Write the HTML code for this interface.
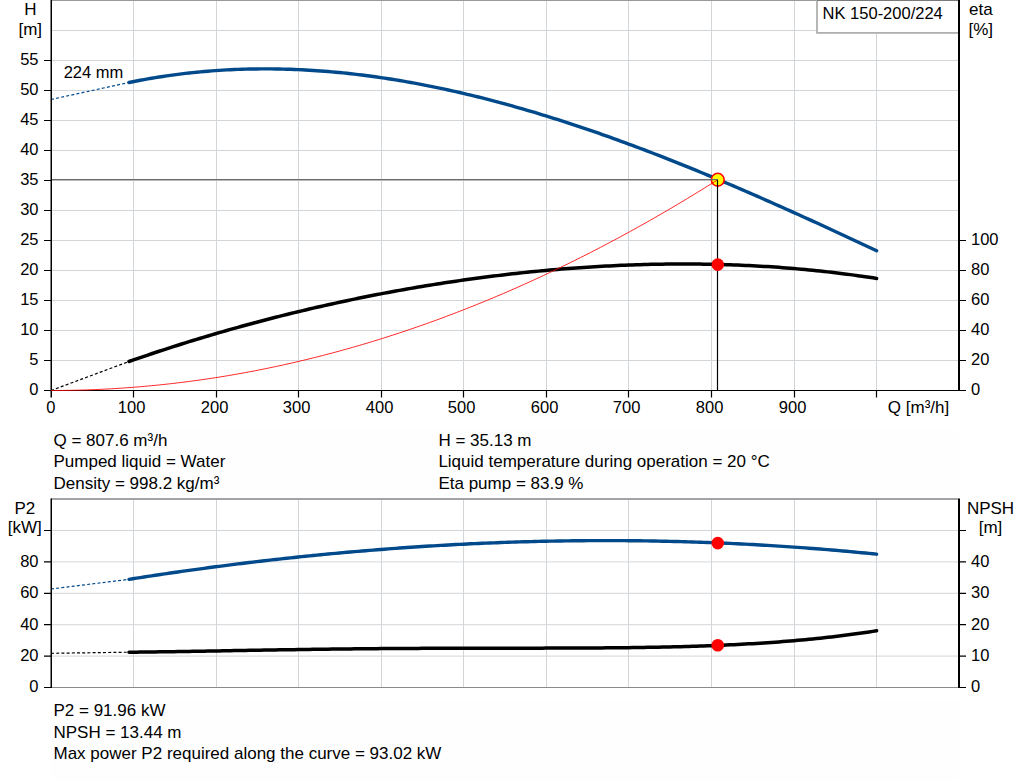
<!DOCTYPE html>
<html><head><meta charset="utf-8"><style>html,body{margin:0;padding:0;background:#fff;width:1024px;height:781px;overflow:hidden}svg{display:block}text{font-family:"Liberation Sans",sans-serif}</style></head>
<body>
<svg width="1024" height="781" viewBox="0 0 1024 781" font-family="Liberation Sans, sans-serif" font-size="17" fill="#000">
<rect width="1024" height="781" fill="#fff"/>
<path d="M133.5,0.5 V390 M216.5,0.5 V390 M298.5,0.5 V390 M381.5,0.5 V390 M463.5,0.5 V390 M546.5,0.5 V390 M628.5,0.5 V390 M711.5,0.5 V390 M794.5,0.5 V390 M876.5,0.5 V390 M51,360.5 H958 M51,330.5 H958 M51,300.5 H958 M51,270.5 H958 M51,240.5 H958 M51,210.5 H958 M51,180.5 H958 M51,150.5 H958 M51,120.5 H958 M51,90.5 H958 M51,60.5 H958 M51,30.5 H958" stroke="#d3d6d9" stroke-width="1" fill="none"/>
<path d="M51,0.5 H958" stroke="#9a9a9a" stroke-width="1"/>
<rect x="817" y="-1" width="142" height="33.9" fill="#fff" stroke="#b0b0b0" stroke-width="1.8"/>
<path d="M817,0.5 H958" stroke="#7a7a7a" stroke-width="1"/>
<path d="M51.00,390.50 L129.02,361.49" stroke="#000" stroke-width="1.2" stroke-dasharray="3 2.2" fill="none"/>
<path d="M129.02,361.49 L132.78,360.18 L136.53,358.88 L140.29,357.59 L144.05,356.31 L147.80,355.04 L151.56,353.78 L155.32,352.52 L159.07,351.28 L162.83,350.05 L166.59,348.82 L170.34,347.61 L174.10,346.40 L177.86,345.21 L181.61,344.02 L185.37,342.84 L189.13,341.68 L192.88,340.52 L196.64,339.37 L200.40,338.23 L204.15,337.10 L207.91,335.98 L211.67,334.86 L215.42,333.76 L219.18,332.67 L222.94,331.58 L226.69,330.50 L230.45,329.44 L234.21,328.38 L237.96,327.33 L241.72,326.29 L245.48,325.25 L249.23,324.23 L252.99,323.22 L256.75,322.21 L260.50,321.21 L264.26,320.23 L268.02,319.25 L271.77,318.28 L275.53,317.32 L279.29,316.36 L283.04,315.42 L286.80,314.48 L290.56,313.56 L294.31,312.64 L298.07,311.73 L301.83,310.83 L305.58,309.93 L309.34,309.05 L313.10,308.17 L316.85,307.31 L320.61,306.45 L324.37,305.60 L328.12,304.76 L331.88,303.92 L335.64,303.10 L339.39,302.28 L343.15,301.47 L346.91,300.67 L350.66,299.88 L354.42,299.10 L358.18,298.33 L361.93,297.56 L365.69,296.81 L369.45,296.06 L373.20,295.32 L376.96,294.58 L380.72,293.86 L384.47,293.15 L388.23,292.44 L391.99,291.74 L395.74,291.05 L399.50,290.37 L403.26,289.70 L407.01,289.03 L410.77,288.38 L414.53,287.73 L418.28,287.09 L422.04,286.46 L425.80,285.84 L429.55,285.22 L433.31,284.62 L437.07,284.02 L440.82,283.43 L444.58,282.85 L448.34,282.28 L452.09,281.72 L455.85,281.16 L459.61,280.61 L463.36,280.08 L467.12,279.55 L470.88,279.03 L474.63,278.51 L478.39,278.01 L482.15,277.51 L485.90,277.03 L489.66,276.55 L493.42,276.08 L497.17,275.62 L500.93,275.17 L504.69,274.72 L508.44,274.29 L512.20,273.86 L515.96,273.44 L519.71,273.03 L523.47,272.63 L527.23,272.24 L530.98,271.86 L534.74,271.48 L538.50,271.12 L542.25,270.76 L546.01,270.41 L549.77,270.07 L553.52,269.74 L557.28,269.42 L561.04,269.11 L564.79,268.81 L568.55,268.51 L572.31,268.23 L576.07,267.95 L579.82,267.68 L583.58,267.43 L587.34,267.18 L591.09,266.94 L594.85,266.71 L598.61,266.48 L602.36,266.27 L606.12,266.07 L609.88,265.88 L613.63,265.69 L617.39,265.52 L621.15,265.35 L624.90,265.19 L628.66,265.05 L632.42,264.91 L636.17,264.78 L639.93,264.66 L643.69,264.55 L647.44,264.46 L651.20,264.37 L654.96,264.29 L658.71,264.22 L662.47,264.16 L666.23,264.10 L669.98,264.06 L673.74,264.03 L677.50,264.01 L681.25,264.00 L685.01,264.00 L688.77,264.01 L692.52,264.03 L696.28,264.06 L700.04,264.10 L703.79,264.15 L707.55,264.21 L711.31,264.28 L715.06,264.36 L718.82,264.45 L722.58,264.55 L726.33,264.67 L730.09,264.79 L733.85,264.92 L737.60,265.07 L741.36,265.22 L745.12,265.39 L748.87,265.57 L752.63,265.75 L756.39,265.95 L760.14,266.16 L763.90,266.38 L767.66,266.61 L771.41,266.86 L775.17,267.11 L778.93,267.37 L782.68,267.65 L786.44,267.94 L790.20,268.24 L793.95,268.55 L797.71,268.87 L801.47,269.21 L805.22,269.55 L808.98,269.91 L812.74,270.28 L816.49,270.66 L820.25,271.05 L824.01,271.46 L827.76,271.87 L831.52,272.30 L835.28,272.74 L839.03,273.20 L842.79,273.66 L846.55,274.14 L850.30,274.63 L854.06,275.13 L857.82,275.65 L861.57,276.18 L865.33,276.72 L869.09,277.27 L872.84,277.84 L876.60,278.42" stroke="#000" stroke-width="3.5" fill="none" stroke-linecap="round" stroke-linejoin="round"/>
<path d="M51.00,99.5 L129.02,82.48" stroke="#004a8c" stroke-width="1.2" stroke-dasharray="3 2.2" fill="none"/>
<path d="M129.02,82.48 L132.78,81.72 L136.53,80.98 L140.29,80.26 L144.05,79.57 L147.80,78.90 L151.56,78.25 L155.32,77.63 L159.07,77.03 L162.83,76.45 L166.59,75.89 L170.34,75.35 L174.10,74.84 L177.86,74.35 L181.61,73.88 L185.37,73.43 L189.13,73.01 L192.88,72.60 L196.64,72.22 L200.40,71.86 L204.15,71.52 L207.91,71.20 L211.67,70.90 L215.42,70.63 L219.18,70.37 L222.94,70.13 L226.69,69.92 L230.45,69.72 L234.21,69.55 L237.96,69.40 L241.72,69.26 L245.48,69.15 L249.23,69.06 L252.99,68.99 L256.75,68.93 L260.50,68.90 L264.26,68.88 L268.02,68.89 L271.77,68.91 L275.53,68.96 L279.29,69.02 L283.04,69.10 L286.80,69.20 L290.56,69.32 L294.31,69.46 L298.07,69.62 L301.83,69.80 L305.58,69.99 L309.34,70.20 L313.10,70.43 L316.85,70.68 L320.61,70.95 L324.37,71.24 L328.12,71.54 L331.88,71.86 L335.64,72.20 L339.39,72.55 L343.15,72.92 L346.91,73.31 L350.66,73.72 L354.42,74.15 L358.18,74.59 L361.93,75.04 L365.69,75.52 L369.45,76.01 L373.20,76.52 L376.96,77.04 L380.72,77.58 L384.47,78.14 L388.23,78.71 L391.99,79.30 L395.74,79.91 L399.50,80.53 L403.26,81.16 L407.01,81.81 L410.77,82.48 L414.53,83.16 L418.28,83.86 L422.04,84.58 L425.80,85.30 L429.55,86.05 L433.31,86.80 L437.07,87.58 L440.82,88.36 L444.58,89.17 L448.34,89.98 L452.09,90.81 L455.85,91.66 L459.61,92.52 L463.36,93.39 L467.12,94.28 L470.88,95.18 L474.63,96.09 L478.39,97.02 L482.15,97.96 L485.90,98.91 L489.66,99.88 L493.42,100.86 L497.17,101.85 L500.93,102.86 L504.69,103.88 L508.44,104.91 L512.20,105.96 L515.96,107.02 L519.71,108.09 L523.47,109.17 L527.23,110.26 L530.98,111.37 L534.74,112.49 L538.50,113.62 L542.25,114.76 L546.01,115.91 L549.77,117.08 L553.52,118.26 L557.28,119.44 L561.04,120.64 L564.79,121.85 L568.55,123.08 L572.31,124.31 L576.07,125.55 L579.82,126.81 L583.58,128.07 L587.34,129.35 L591.09,130.63 L594.85,131.93 L598.61,133.23 L602.36,134.55 L606.12,135.88 L609.88,137.21 L613.63,138.56 L617.39,139.91 L621.15,141.28 L624.90,142.65 L628.66,144.04 L632.42,145.43 L636.17,146.83 L639.93,148.24 L643.69,149.66 L647.44,151.09 L651.20,152.53 L654.96,153.98 L658.71,155.43 L662.47,156.90 L666.23,158.37 L669.98,159.85 L673.74,161.33 L677.50,162.83 L681.25,164.33 L685.01,165.85 L688.77,167.37 L692.52,168.89 L696.28,170.43 L700.04,171.97 L703.79,173.52 L707.55,175.07 L711.31,176.63 L715.06,178.20 L718.82,179.78 L722.58,181.36 L726.33,182.95 L730.09,184.55 L733.85,186.15 L737.60,187.76 L741.36,189.38 L745.12,191.00 L748.87,192.63 L752.63,194.26 L756.39,195.90 L760.14,197.54 L763.90,199.19 L767.66,200.85 L771.41,202.51 L775.17,204.18 L778.93,205.85 L782.68,207.53 L786.44,209.21 L790.20,210.89 L793.95,212.58 L797.71,214.28 L801.47,215.98 L805.22,217.68 L808.98,219.39 L812.74,221.11 L816.49,222.82 L820.25,224.54 L824.01,226.27 L827.76,228.00 L831.52,229.73 L835.28,231.46 L839.03,233.20 L842.79,234.95 L846.55,236.69 L850.30,238.44 L854.06,240.19 L857.82,241.95 L861.57,243.71 L865.33,245.47 L869.09,247.23 L872.84,248.99 L876.60,250.76" stroke="#004a8c" stroke-width="3.4" fill="none" stroke-linecap="round" stroke-linejoin="round"/>
<path d="M51.25,0 V397.5" stroke="#000" stroke-width="1.5"/>
<path d="M959,0 V391" stroke="#000" stroke-width="2"/>
<path d="M44,390.5 H966" stroke="#000" stroke-width="1.2"/>
<path d="M44,390.5 H51 M44,360.5 H51 M44,330.5 H51 M44,300.5 H51 M44,270.5 H51 M44,240.5 H51 M44,210.5 H51 M44,180.5 H51 M44,150.5 H51 M44,120.5 H51 M44,90.5 H51 M44,60.5 H51 M960,390.5 H966 M960,360.5 H966 M960,330.5 H966 M960,300.5 H966 M960,270.5 H966 M960,240.5 H966 M133.5,390 V397.5 M216.5,390 V397.5 M298.5,390 V397.5 M381.5,390 V397.5 M463.5,390 V397.5 M546.5,390 V397.5 M628.5,390 V397.5 M711.5,390 V397.5 M794.5,390 V397.5 M876.5,390 V397.5" stroke="#000" stroke-width="1.2"/>
<circle cx="717.75" cy="179.72" r="6.4" fill="#ffff00" stroke="#ff0000" stroke-width="1.6"/>
<path d="M51.00,390.50 L54.35,390.49 L57.70,390.48 L61.05,390.45 L64.40,390.41 L67.75,390.37 L71.10,390.31 L74.45,390.24 L77.80,390.16 L81.15,390.07 L84.51,389.97 L87.86,389.86 L91.21,389.73 L94.56,389.60 L97.91,389.46 L101.26,389.30 L104.61,389.14 L107.96,388.96 L111.31,388.78 L114.66,388.58 L118.01,388.37 L121.36,388.15 L124.71,387.92 L128.06,387.68 L131.41,387.43 L134.76,387.17 L138.11,386.90 L141.46,386.62 L144.81,386.33 L148.17,386.02 L151.52,385.71 L154.87,385.38 L158.22,385.05 L161.57,384.70 L164.92,384.35 L168.27,383.98 L171.62,383.60 L174.97,383.21 L178.32,382.81 L181.67,382.40 L185.02,381.98 L188.37,381.55 L191.72,381.11 L195.07,380.66 L198.42,380.20 L201.77,379.72 L205.12,379.24 L208.47,378.74 L211.83,378.24 L215.18,377.72 L218.53,377.19 L221.88,376.66 L225.23,376.11 L228.58,375.55 L231.93,374.98 L235.28,374.40 L238.63,373.81 L241.98,373.21 L245.33,372.59 L248.68,371.97 L252.03,371.34 L255.38,370.69 L258.73,370.04 L262.08,369.37 L265.43,368.70 L268.78,368.01 L272.13,367.31 L275.49,366.61 L278.84,365.89 L282.19,365.16 L285.54,364.42 L288.89,363.67 L292.24,362.91 L295.59,362.14 L298.94,361.35 L302.29,360.56 L305.64,359.76 L308.99,358.94 L312.34,358.12 L315.69,357.28 L319.04,356.44 L322.39,355.58 L325.74,354.71 L329.09,353.83 L332.44,352.94 L335.79,352.04 L339.15,351.13 L342.50,350.21 L345.85,349.28 L349.20,348.34 L352.55,347.39 L355.90,346.42 L359.25,345.45 L362.60,344.46 L365.95,343.47 L369.30,342.46 L372.65,341.45 L376.00,340.42 L379.35,339.38 L382.70,338.33 L386.05,337.27 L389.40,336.20 L392.75,335.12 L396.10,334.03 L399.45,332.93 L402.81,331.82 L406.16,330.70 L409.51,329.56 L412.86,328.42 L416.21,327.26 L419.56,326.10 L422.91,324.92 L426.26,323.73 L429.61,322.54 L432.96,321.33 L436.31,320.11 L439.66,318.88 L443.01,317.64 L446.36,316.39 L449.71,315.13 L453.06,313.85 L456.41,312.57 L459.76,311.28 L463.11,309.97 L466.47,308.66 L469.82,307.33 L473.17,306.00 L476.52,304.65 L479.87,303.29 L483.22,301.93 L486.57,300.55 L489.92,299.16 L493.27,297.76 L496.62,296.35 L499.97,294.93 L503.32,293.50 L506.67,292.05 L510.02,290.60 L513.37,289.14 L516.72,287.66 L520.07,286.18 L523.42,284.68 L526.77,283.18 L530.13,281.66 L533.48,280.13 L536.83,278.59 L540.18,277.04 L543.53,275.48 L546.88,273.91 L550.23,272.33 L553.58,270.74 L556.93,269.14 L560.28,267.53 L563.63,265.90 L566.98,264.27 L570.33,262.62 L573.68,260.97 L577.03,259.30 L580.38,257.63 L583.73,255.94 L587.08,254.24 L590.43,252.53 L593.79,250.81 L597.14,249.08 L600.49,247.34 L603.84,245.59 L607.19,243.83 L610.54,242.06 L613.89,240.28 L617.24,238.48 L620.59,236.68 L623.94,234.86 L627.29,233.04 L630.64,231.20 L633.99,229.35 L637.34,227.50 L640.69,225.63 L644.04,223.75 L647.39,221.86 L650.74,219.96 L654.09,218.05 L657.45,216.13 L660.80,214.19 L664.15,212.25 L667.50,210.30 L670.85,208.33 L674.20,206.36 L677.55,204.37 L680.90,202.38 L684.25,200.37 L687.60,198.35 L690.95,196.33 L694.30,194.29 L697.65,192.24 L701.00,190.18 L704.35,188.11 L707.70,186.03 L711.05,183.94 L714.40,181.83 L717.75,179.72" stroke="#ff0000" stroke-width="0.85" fill="none"/>
<path d="M52,179.72 H717.75" stroke="#6a6a6a" stroke-width="1.2"/>
<path d="M717.5,179.72 V390.5" stroke="#000" stroke-width="1.2"/>
<circle cx="717.75" cy="264.65" r="6.3" fill="#ff0000"/>
<text x="822.6" y="19" font-size="16.5">NK 150-200/224</text>
<text x="38.5" y="395.0" text-anchor="end" font-size="16.5">0</text>
<text x="38.5" y="365.0" text-anchor="end" font-size="16.5">5</text>
<text x="38.5" y="335.0" text-anchor="end" font-size="16.5">10</text>
<text x="38.5" y="305.0" text-anchor="end" font-size="16.5">15</text>
<text x="38.5" y="275.0" text-anchor="end" font-size="16.5">20</text>
<text x="38.5" y="245.0" text-anchor="end" font-size="16.5">25</text>
<text x="38.5" y="215.0" text-anchor="end" font-size="16.5">30</text>
<text x="38.5" y="185.0" text-anchor="end" font-size="16.5">35</text>
<text x="38.5" y="155.0" text-anchor="end" font-size="16.5">40</text>
<text x="38.5" y="125.0" text-anchor="end" font-size="16.5">45</text>
<text x="38.5" y="95.0" text-anchor="end" font-size="16.5">50</text>
<text x="38.5" y="65.0" text-anchor="end" font-size="16.5">55</text>
<text x="971" y="395.0" font-size="16.5">0</text>
<text x="971" y="365.0" font-size="16.5">20</text>
<text x="971" y="335.0" font-size="16.5">40</text>
<text x="971" y="305.0" font-size="16.5">60</text>
<text x="971" y="275.0" font-size="16.5">80</text>
<text x="971" y="245.0" font-size="16.5">100</text>
<text x="50.90" y="413" text-anchor="middle" font-size="16.5">0</text>
<text x="131.60" y="413" text-anchor="middle" font-size="16.5">100</text>
<text x="214.60" y="413" text-anchor="middle" font-size="16.5">200</text>
<text x="296.60" y="413" text-anchor="middle" font-size="16.5">300</text>
<text x="379.60" y="413" text-anchor="middle" font-size="16.5">400</text>
<text x="461.60" y="413" text-anchor="middle" font-size="16.5">500</text>
<text x="544.60" y="413" text-anchor="middle" font-size="16.5">600</text>
<text x="626.60" y="413" text-anchor="middle" font-size="16.5">700</text>
<text x="709.60" y="413" text-anchor="middle" font-size="16.5">800</text>
<text x="792.60" y="413" text-anchor="middle" font-size="16.5">900</text>
<text x="887.8" y="413">Q [m³/h]</text>
<text x="30.3" y="15" text-anchor="middle">H</text>
<text x="30.3" y="35" text-anchor="middle">[m]</text>
<text x="980.8" y="15" text-anchor="middle">eta</text>
<text x="980.8" y="35" text-anchor="middle">[%]</text>
<text x="63.7" y="78" font-size="16.5">224 mm</text>
<rect x="51" y="430" width="908" height="68" fill="#fefefe"/>
<text x="53.5" y="446.0">Q = 807.6 m³/h</text>
<text x="53.5" y="467.3">Pumped liquid = Water</text>
<text x="53.5" y="488.6">Density = 998.2 kg/m³</text>
<text x="438.4" y="446.0">H = 35.13 m</text>
<text x="438.4" y="467.3">Liquid temperature during operation = 20 °C</text>
<text x="438.4" y="488.6">Eta pump = 83.9 %</text>
<path d="M133.5,499 V687 M216.5,499 V687 M298.5,499 V687 M381.5,499 V687 M463.5,499 V687 M546.5,499 V687 M628.5,499 V687 M711.5,499 V687 M794.5,499 V687 M876.5,499 V687 M51,656.10 H958 M51,624.70 H958 M51,593.30 H958 M51,561.90 H958 M51,530.50 H958" stroke="#d3d6d9" stroke-width="1" fill="none"/>
<path d="M51,499 H958" stroke="#83858a" stroke-width="1.5"/>
<path d="M51,687.5 H958" stroke="#8a8a8a" stroke-width="1.2"/>
<path d="M51.00,653.3 L129.02,652.20" stroke="#000" stroke-width="1.2" stroke-dasharray="3 2.2" fill="none"/>
<path d="M129.02,652.20 L132.78,652.17 L136.53,652.13 L140.29,652.08 L144.05,652.04 L147.80,651.99 L151.56,651.95 L155.32,651.90 L159.07,651.85 L162.83,651.79 L166.59,651.74 L170.34,651.68 L174.10,651.63 L177.86,651.57 L181.61,651.51 L185.37,651.45 L189.13,651.39 L192.88,651.33 L196.64,651.27 L200.40,651.20 L204.15,651.14 L207.91,651.08 L211.67,651.01 L215.42,650.95 L219.18,650.88 L222.94,650.82 L226.69,650.75 L230.45,650.69 L234.21,650.62 L237.96,650.56 L241.72,650.49 L245.48,650.43 L249.23,650.36 L252.99,650.30 L256.75,650.24 L260.50,650.17 L264.26,650.11 L268.02,650.05 L271.77,649.99 L275.53,649.93 L279.29,649.87 L283.04,649.81 L286.80,649.75 L290.56,649.69 L294.31,649.63 L298.07,649.58 L301.83,649.52 L305.58,649.47 L309.34,649.42 L313.10,649.36 L316.85,649.31 L320.61,649.26 L324.37,649.21 L328.12,649.17 L331.88,649.12 L335.64,649.07 L339.39,649.03 L343.15,648.99 L346.91,648.95 L350.66,648.90 L354.42,648.86 L358.18,648.83 L361.93,648.79 L365.69,648.75 L369.45,648.72 L373.20,648.69 L376.96,648.65 L380.72,648.62 L384.47,648.59 L388.23,648.56 L391.99,648.54 L395.74,648.51 L399.50,648.49 L403.26,648.46 L407.01,648.44 L410.77,648.42 L414.53,648.40 L418.28,648.38 L422.04,648.36 L425.80,648.34 L429.55,648.33 L433.31,648.31 L437.07,648.30 L440.82,648.29 L444.58,648.27 L448.34,648.26 L452.09,648.25 L455.85,648.24 L459.61,648.23 L463.36,648.23 L467.12,648.22 L470.88,648.21 L474.63,648.21 L478.39,648.20 L482.15,648.20 L485.90,648.19 L489.66,648.19 L493.42,648.18 L497.17,648.18 L500.93,648.17 L504.69,648.17 L508.44,648.17 L512.20,648.16 L515.96,648.16 L519.71,648.16 L523.47,648.15 L527.23,648.15 L530.98,648.15 L534.74,648.14 L538.50,648.14 L542.25,648.13 L546.01,648.12 L549.77,648.12 L553.52,648.11 L557.28,648.10 L561.04,648.09 L564.79,648.08 L568.55,648.07 L572.31,648.05 L576.07,648.04 L579.82,648.02 L583.58,648.00 L587.34,647.98 L591.09,647.96 L594.85,647.94 L598.61,647.92 L602.36,647.89 L606.12,647.86 L609.88,647.83 L613.63,647.79 L617.39,647.76 L621.15,647.72 L624.90,647.68 L628.66,647.63 L632.42,647.58 L636.17,647.53 L639.93,647.48 L643.69,647.42 L647.44,647.36 L651.20,647.30 L654.96,647.23 L658.71,647.15 L662.47,647.08 L666.23,647.00 L669.98,646.91 L673.74,646.82 L677.50,646.73 L681.25,646.63 L685.01,646.53 L688.77,646.42 L692.52,646.31 L696.28,646.19 L700.04,646.06 L703.79,645.93 L707.55,645.80 L711.31,645.65 L715.06,645.51 L718.82,645.35 L722.58,645.19 L726.33,645.02 L730.09,644.85 L733.85,644.67 L737.60,644.48 L741.36,644.28 L745.12,644.08 L748.87,643.87 L752.63,643.65 L756.39,643.43 L760.14,643.19 L763.90,642.95 L767.66,642.70 L771.41,642.44 L775.17,642.17 L778.93,641.89 L782.68,641.60 L786.44,641.30 L790.20,641.00 L793.95,640.68 L797.71,640.35 L801.47,640.02 L805.22,639.67 L808.98,639.31 L812.74,638.94 L816.49,638.56 L820.25,638.17 L824.01,637.77 L827.76,637.35 L831.52,636.92 L835.28,636.48 L839.03,636.03 L842.79,635.57 L846.55,635.09 L850.30,634.60 L854.06,634.10 L857.82,633.58 L861.57,633.05 L865.33,632.50 L869.09,631.95 L872.84,631.37 L876.60,630.78" stroke="#000" stroke-width="3.5" fill="none" stroke-linecap="round" stroke-linejoin="round"/>
<path d="M51.00,589.0 L129.02,579.32" stroke="#004a8c" stroke-width="1.2" stroke-dasharray="3 2.2" fill="none"/>
<path d="M129.02,579.32 L132.78,578.73 L136.53,578.14 L140.29,577.56 L144.05,576.98 L147.80,576.40 L151.56,575.83 L155.32,575.27 L159.07,574.71 L162.83,574.15 L166.59,573.60 L170.34,573.05 L174.10,572.51 L177.86,571.97 L181.61,571.43 L185.37,570.90 L189.13,570.37 L192.88,569.85 L196.64,569.33 L200.40,568.82 L204.15,568.31 L207.91,567.81 L211.67,567.31 L215.42,566.81 L219.18,566.32 L222.94,565.83 L226.69,565.35 L230.45,564.87 L234.21,564.40 L237.96,563.93 L241.72,563.47 L245.48,563.01 L249.23,562.55 L252.99,562.10 L256.75,561.65 L260.50,561.21 L264.26,560.77 L268.02,560.34 L271.77,559.91 L275.53,559.49 L279.29,559.07 L283.04,558.66 L286.80,558.24 L290.56,557.84 L294.31,557.44 L298.07,557.04 L301.83,556.65 L305.58,556.26 L309.34,555.88 L313.10,555.50 L316.85,555.13 L320.61,554.76 L324.37,554.39 L328.12,554.03 L331.88,553.68 L335.64,553.33 L339.39,552.98 L343.15,552.64 L346.91,552.30 L350.66,551.97 L354.42,551.64 L358.18,551.32 L361.93,551.00 L365.69,550.69 L369.45,550.38 L373.20,550.07 L376.96,549.77 L380.72,549.48 L384.47,549.19 L388.23,548.90 L391.99,548.62 L395.74,548.35 L399.50,548.07 L403.26,547.81 L407.01,547.55 L410.77,547.29 L414.53,547.04 L418.28,546.79 L422.04,546.55 L425.80,546.31 L429.55,546.07 L433.31,545.85 L437.07,545.62 L440.82,545.40 L444.58,545.19 L448.34,544.98 L452.09,544.77 L455.85,544.57 L459.61,544.38 L463.36,544.19 L467.12,544.00 L470.88,543.82 L474.63,543.65 L478.39,543.48 L482.15,543.31 L485.90,543.15 L489.66,542.99 L493.42,542.84 L497.17,542.70 L500.93,542.56 L504.69,542.42 L508.44,542.29 L512.20,542.16 L515.96,542.04 L519.71,541.92 L523.47,541.81 L527.23,541.70 L530.98,541.60 L534.74,541.50 L538.50,541.41 L542.25,541.32 L546.01,541.24 L549.77,541.16 L553.52,541.09 L557.28,541.03 L561.04,540.96 L564.79,540.91 L568.55,540.85 L572.31,540.81 L576.07,540.76 L579.82,540.73 L583.58,540.69 L587.34,540.67 L591.09,540.64 L594.85,540.63 L598.61,540.61 L602.36,540.61 L606.12,540.61 L609.88,540.61 L613.63,540.62 L617.39,540.63 L621.15,540.65 L624.90,540.67 L628.66,540.70 L632.42,540.73 L636.17,540.77 L639.93,540.82 L643.69,540.87 L647.44,540.92 L651.20,540.98 L654.96,541.04 L658.71,541.11 L662.47,541.19 L666.23,541.27 L669.98,541.35 L673.74,541.44 L677.50,541.54 L681.25,541.64 L685.01,541.74 L688.77,541.86 L692.52,541.97 L696.28,542.09 L700.04,542.22 L703.79,542.35 L707.55,542.49 L711.31,542.63 L715.06,542.78 L718.82,542.93 L722.58,543.09 L726.33,543.25 L730.09,543.42 L733.85,543.59 L737.60,543.77 L741.36,543.96 L745.12,544.15 L748.87,544.34 L752.63,544.54 L756.39,544.75 L760.14,544.96 L763.90,545.18 L767.66,545.40 L771.41,545.63 L775.17,545.86 L778.93,546.09 L782.68,546.34 L786.44,546.59 L790.20,546.84 L793.95,547.10 L797.71,547.36 L801.47,547.63 L805.22,547.91 L808.98,548.19 L812.74,548.48 L816.49,548.77 L820.25,549.06 L824.01,549.37 L827.76,549.67 L831.52,549.99 L835.28,550.31 L839.03,550.63 L842.79,550.96 L846.55,551.29 L850.30,551.63 L854.06,551.98 L857.82,552.33 L861.57,552.69 L865.33,553.05 L869.09,553.42 L872.84,553.79 L876.60,554.17" stroke="#004a8c" stroke-width="3.4" fill="none" stroke-linecap="round" stroke-linejoin="round"/>
<circle cx="717.75" cy="543.12" r="6.3" fill="#ff0000"/>
<circle cx="717.75" cy="645.30" r="6.3" fill="#ff0000"/>
<path d="M51.25,498.5 V688" stroke="#000" stroke-width="1.5"/>
<path d="M959,498.5 V688" stroke="#000" stroke-width="2"/>
<path d="M44,687.50 H51 M960,687.50 H966 M44,656.10 H51 M960,656.10 H966 M44,624.70 H51 M960,624.70 H966 M44,593.30 H51 M960,593.30 H966 M44,561.90 H51 M960,561.90 H966 M44,530.50 H51 M960,530.50 H966" stroke="#000" stroke-width="1.2"/>
<text x="38.5" y="692" text-anchor="end" font-size="16.5">0</text>
<text x="971" y="692" font-size="16.5">0</text>
<text x="38.5" y="661" text-anchor="end" font-size="16.5">20</text>
<text x="971" y="661" font-size="16.5">10</text>
<text x="38.5" y="630" text-anchor="end" font-size="16.5">40</text>
<text x="971" y="630" font-size="16.5">20</text>
<text x="38.5" y="598" text-anchor="end" font-size="16.5">60</text>
<text x="971" y="598" font-size="16.5">30</text>
<text x="38.5" y="567" text-anchor="end" font-size="16.5">80</text>
<text x="971" y="567" font-size="16.5">40</text>
<text x="24.8" y="514" text-anchor="middle">P2</text>
<text x="24.8" y="533" text-anchor="middle">[kW]</text>
<text x="990.5" y="514" text-anchor="middle">NPSH</text>
<text x="990.5" y="533" text-anchor="middle">[m]</text>
<rect x="51" y="701" width="908" height="80" fill="#fefefe"/>
<text x="53.5" y="716.0">P2 = 91.96 kW</text>
<text x="53.5" y="737.5">NPSH = 13.44 m</text>
<text x="53.5" y="759.0">Max power P2 required along the curve = 93.02 kW</text>
</svg>
</body></html>
